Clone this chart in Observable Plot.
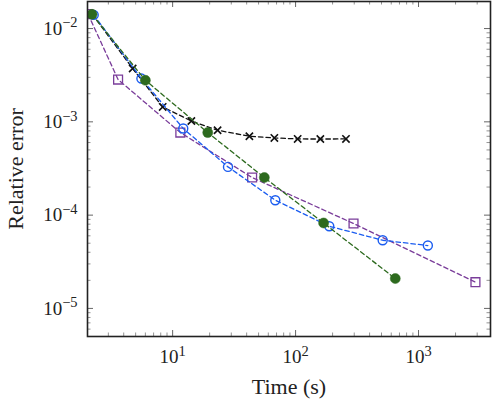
<!DOCTYPE html>
<html>
<head>
<meta charset="utf-8">
<script src="https://cdn.jsdelivr.net/npm/d3@7"></script>
<script src="https://cdn.jsdelivr.net/npm/@observablehq/plot@0.6"></script>
<style>
  html, body { margin: 0; padding: 0; background: #fff; }
  #chart svg { display: block; }
</style>
</head>
<body>
<div id="chart"></div>
<script>
// ---- data ----
const blackTime  = [2.22, 4.73, 8.3, 14.2, 23.2, 42.1, 67.2, 104, 159, 257];
const blackError = [0.0142, 0.00373, 0.001445, 0.00102, 0.000813, 0.000701, 0.000672, 0.000656, 0.000654, 0.000656];

const blueTime   = [2.28, 5.57, 12.2, 28.2, 68.4, 188, 511, 1191];
const blueError  = [0.0140, 0.00291, 0.000848, 0.000329, 0.0001445, 0.000076, 0.0000538, 0.0000472];

const purpleTime  = [2.05, 3.60, 11.55, 44.3, 296, 2904];
const purpleError = [0.0143, 0.00284, 0.000767, 0.000253, 0.0000813, 0.0000191];

const greenTime  = [2.21, 6.0, 19.3, 55.7, 169, 647];
const greenError = [0.0142, 0.00279, 0.000767, 0.000253, 0.0000824, 0.0000209];

const xMajorTicks = [10, 100, 1000];
const yMajorTicks = [1e-5, 1e-4, 1e-3, 1e-2];
const xTickLabels = ["10^1", "10^2", "10^3"];
const yTickLabels = ["10^−5", "10^−4", "10^−3", "10^−2"];
const xTitle = "Time (s)";
const yTitle = "Relative error";

// ---- build tables ----
const toRows = (xs, ys) => xs.map((x, i) => ({x, y: ys[i]}));
const black = toRows(blackTime, blackError);
const blue = toRows(blueTime, blueError);
const purple = toRows(purpleTime, purpleError);
const green = toRows(greenTime, greenError);

const xDomain = [2.03, 3850];
const yDomain = [5e-6, 0.0195];

const xMinor = [];
for (const p of [1, 10, 100, 1000]) for (let m = 2; m <= 9; m++) {
  const v = m * p; if (v > xDomain[0] && v < xDomain[1]) xMinor.push(v);
}
const yMinor = [];
for (const p of [1e-6, 1e-5, 1e-4, 1e-3]) for (let m = 2; m <= 9; m++) {
  const v = m * p; if (v > yDomain[0] && v < yDomain[1]) yMinor.push(v);
}

const W = 493, H = 405;
const mL = 87, mR = 3, mT = 1, mB = 69;
const innerW = W - mL - mR, innerH = H - mT - mB;
const majorLen = 6, minorLen = 3.5;
const font = "'Liberation Serif', 'DejaVu Serif', serif";

const colBlue = "#1a5cf0", colGreen = "#2d6a1e", colPurple = "#7a3d9a", colBlack = "#111";
const dash = "4.5,3";

const xTickLabelMap = new Map(xMajorTicks.map((t, i) => [t, xTickLabels[i]]));
const yTickLabelMap = new Map(yMajorTicks.map((t, i) => [t, yTickLabels[i]]));

const plot = Plot.plot({
  width: W, height: H,
  marginLeft: mL, marginRight: mR, marginTop: mT, marginBottom: mB,
  style: {fontFamily: font, background: "#fff"},
  x: {type: "log", domain: xDomain, axis: null},
  y: {type: "log", domain: yDomain, axis: null},
  marks: [
    // inward tick marks on all four sides
    Plot.tickX(xMinor, {x: d => d, insetTop: innerH - minorLen, stroke: "#777", strokeWidth: 0.8}),
    Plot.tickX(xMinor, {x: d => d, insetBottom: innerH - minorLen, stroke: "#777", strokeWidth: 0.8}),
    Plot.tickX(xMajorTicks, {x: d => d, insetTop: innerH - majorLen, stroke: "#555", strokeWidth: 0.9}),
    Plot.tickX(xMajorTicks, {x: d => d, insetBottom: innerH - majorLen, stroke: "#555", strokeWidth: 0.9}),
    Plot.tickY(yMinor, {y: d => d, insetRight: innerW - minorLen, stroke: "#777", strokeWidth: 0.8}),
    Plot.tickY(yMinor, {y: d => d, insetLeft: innerW - minorLen, stroke: "#777", strokeWidth: 0.8}),
    Plot.tickY(yMajorTicks, {y: d => d, insetRight: innerW - majorLen, stroke: "#555", strokeWidth: 0.9}),
    Plot.tickY(yMajorTicks, {y: d => d, insetLeft: innerW - majorLen, stroke: "#555", strokeWidth: 0.9}),

    // series
    Plot.line(purple, {x: "x", y: "y", stroke: colPurple, strokeWidth: 1.3, strokeDasharray: dash, clip: true}),
    Plot.dot(purple, {x: "x", y: "y", symbol: "square", r: 5, stroke: colPurple, strokeWidth: 1.3, fill: "none", clip: true}),
    Plot.line(black, {x: "x", y: "y", stroke: colBlack, strokeWidth: 1.3, strokeDasharray: dash, clip: true}),
    Plot.dot(black, {x: "x", y: "y", symbol: "times", r: 3.4, stroke: colBlack, strokeWidth: 1.6, clip: true}),
    Plot.line(blue, {x: "x", y: "y", stroke: colBlue, strokeWidth: 1.3, strokeDasharray: dash, clip: true}),
    Plot.dot(blue, {x: "x", y: "y", symbol: "circle", r: 4.5, stroke: colBlue, strokeWidth: 1.4, fill: "none", clip: true}),
    Plot.line(green, {x: "x", y: "y", stroke: colGreen, strokeWidth: 1.3, strokeDasharray: dash, clip: true}),
    Plot.dot(green, {x: "x", y: "y", symbol: "circle", r: 5, fill: colGreen, stroke: colGreen, strokeWidth: 0.5, clip: true}),

    Plot.frame({stroke: "#222", strokeWidth: 1.6}),

    // axes (labels only)
    Plot.axisX(xMajorTicks, {tickSize: 0, tickPadding: 13, fontSize: 19, label: null, tickFormat: d => xTickLabelMap.get(d), fill: "#222"}),
    Plot.axisY(yMajorTicks, {tickSize: 0, tickPadding: 10, fontSize: 19, label: null, tickFormat: d => yTickLabelMap.get(d), fill: "#222"}),

    // titles
    Plot.text([xTitle], {frameAnchor: "bottom", dy: 50, text: d => d, fontSize: 22, fill: "#222", lineAnchor: "middle", textAnchor: "middle"}),
    Plot.text([yTitle], {frameAnchor: "left", dx: -72, text: d => d, rotate: -90, fontSize: 22, fill: "#222", lineAnchor: "middle", textAnchor: "middle"})
  ]
});

// turn "10^k" labels into base + superscript tspans
plot.querySelectorAll("text").forEach(t => {
  const s = t.textContent;
  if (s && s.includes("^")) {
    const [base, exp] = s.split("^");
    while (t.firstChild) t.removeChild(t.firstChild);
    const ns = "http://www.w3.org/2000/svg";
    const b = document.createElementNS(ns, "tspan");
    b.textContent = base;
    const e = document.createElementNS(ns, "tspan");
    e.textContent = exp;
    e.setAttribute("dy", "-0.5em");
    e.setAttribute("font-size", "0.76em");
    t.appendChild(b); t.appendChild(e);
  }
});

document.getElementById("chart").appendChild(plot);
</script>
</body>
</html>
